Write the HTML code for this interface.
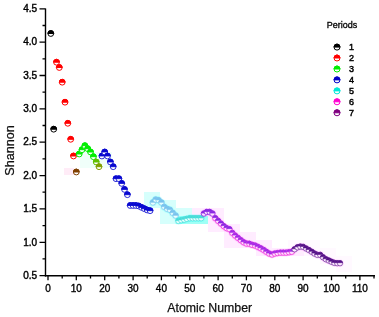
<!DOCTYPE html>
<html><head><meta charset="utf-8"><style>html,body{margin:0;padding:0;background:#fff}body{width:379px;height:317px;overflow:hidden;font-family:"Liberation Sans",sans-serif}</style></head><body>
<svg width="379" height="317" viewBox="0 0 379 317" style="display:block;font-family:'Liberation Sans',sans-serif;filter:blur(0.4px)">
<rect width="379" height="317" fill="#fff"/>
<rect x="144" y="200" width="16" height="8" fill="#00ffee" opacity="0.16"/>
<rect x="144" y="192" width="16" height="8" fill="#00ffee" opacity="0.16"/>
<rect x="160" y="200" width="16" height="8" fill="#00ffee" opacity="0.16"/>
<rect x="160" y="208" width="16" height="8" fill="#00ffee" opacity="0.16"/>
<rect x="160" y="216" width="16" height="8" fill="#00ffee" opacity="0.16"/>
<rect x="176" y="208" width="16" height="8" fill="#00ffee" opacity="0.16"/>
<rect x="176" y="216" width="16" height="8" fill="#00ffee" opacity="0.16"/>
<rect x="192" y="216" width="16" height="8" fill="#00ffee" opacity="0.16"/>
<rect x="192" y="208" width="16" height="8" fill="#ff30ff" opacity="0.09"/>
<rect x="208" y="208" width="16" height="8" fill="#ff30ff" opacity="0.09"/>
<rect x="208" y="216" width="16" height="8" fill="#ff30ff" opacity="0.09"/>
<rect x="208" y="224" width="16" height="8" fill="#ff30ff" opacity="0.09"/>
<rect x="224" y="224" width="16" height="8" fill="#ff30ff" opacity="0.09"/>
<rect x="224" y="232" width="16" height="8" fill="#ff30ff" opacity="0.09"/>
<rect x="224" y="240" width="16" height="8" fill="#ff30ff" opacity="0.09"/>
<rect x="240" y="232" width="16" height="8" fill="#ff30ff" opacity="0.09"/>
<rect x="240" y="240" width="16" height="8" fill="#ff30ff" opacity="0.09"/>
<rect x="256" y="240" width="16" height="8" fill="#ff30ff" opacity="0.09"/>
<rect x="256" y="248" width="16" height="8" fill="#ff30ff" opacity="0.09"/>
<rect x="272" y="248" width="16" height="8" fill="#ff30ff" opacity="0.09"/>
<rect x="288" y="248" width="16" height="8" fill="#ff30ff" opacity="0.09"/>
<rect x="288" y="240" width="16" height="8" fill="#ff60ff" opacity="0.04"/>
<rect x="304" y="240" width="16" height="8" fill="#ff60ff" opacity="0.04"/>
<rect x="304" y="248" width="16" height="8" fill="#ff60ff" opacity="0.04"/>
<rect x="320" y="248" width="16" height="8" fill="#ff60ff" opacity="0.04"/>
<rect x="320" y="256" width="16" height="8" fill="#ff60ff" opacity="0.04"/>
<rect x="336" y="256" width="16" height="8" fill="#ff60ff" opacity="0.04"/>
<rect x="336" y="264" width="16" height="8" fill="#ff60ff" opacity="0.04"/>
<rect x="64" y="168" width="10" height="7" fill="#ff60c0" opacity="0.12"/>
<rect x="176" y="216" width="32" height="8" fill="#60fff0" opacity="0.45"/>
<rect x="80" y="152" width="32" height="16" fill="#40ffc0" opacity="0.08"/>
<g stroke="#000" stroke-width="1.4" fill="none">
<path d="M45.5,8.4 V276.5"/>
<path d="M44.85,275.8 H375"/>
</g>
<g stroke="#000" stroke-width="1.3" fill="none">
<path d="M39.5,275.6 H45.5 M42.5,258.9 H45.5 M39.5,242.3 H45.5 M42.5,225.6 H45.5 M39.5,208.9 H45.5 M42.5,192.2 H45.5 M39.5,175.6 H45.5 M42.5,158.9 H45.5 M39.5,142.2 H45.5 M42.5,125.5 H45.5 M39.5,108.9 H45.5 M42.5,92.2 H45.5 M39.5,75.5 H45.5 M42.5,58.8 H45.5 M39.5,42.2 H45.5 M42.5,25.5 H45.5 M39.5,8.8 H45.5 M48.0,275.8 V280.3 M62.2,275.8 V278.6 M76.3,275.8 V280.3 M90.5,275.8 V278.6 M104.7,275.8 V280.3 M118.9,275.8 V278.6 M133.1,275.8 V280.3 M147.2,275.8 V278.6 M161.4,275.8 V280.3 M175.6,275.8 V278.6 M189.8,275.8 V280.3 M203.9,275.8 V278.6 M218.1,275.8 V280.3 M232.3,275.8 V278.6 M246.4,275.8 V280.3 M260.6,275.8 V278.6 M274.8,275.8 V280.3 M289.0,275.8 V278.6 M303.1,275.8 V280.3 M317.3,275.8 V278.6 M331.5,275.8 V280.3 M345.7,275.8 V278.6 M359.9,275.8 V280.3 M374.0,275.8 V278.6"/>
</g>
<g font-size="10" fill="#000" stroke="#000" stroke-width="0.4" text-anchor="end">
<text x="37.2" y="278.8">0.5</text>
<text x="37.2" y="245.5">1.0</text>
<text x="37.2" y="212.1">1.5</text>
<text x="37.2" y="178.8">2.0</text>
<text x="37.2" y="145.4">2.5</text>
<text x="37.2" y="112.1">3.0</text>
<text x="37.2" y="78.7">3.5</text>
<text x="37.2" y="45.4">4.0</text>
<text x="37.2" y="12.0">4.5</text>
</g>
<g font-size="10" fill="#000" stroke="#000" stroke-width="0.35" text-anchor="middle">
<text x="48.0" y="292.3">0</text>
<text x="76.3" y="292.3">10</text>
<text x="104.7" y="292.3">20</text>
<text x="133.1" y="292.3">30</text>
<text x="161.4" y="292.3">40</text>
<text x="189.8" y="292.3">50</text>
<text x="218.1" y="292.3">60</text>
<text x="246.4" y="292.3">70</text>
<text x="274.8" y="292.3">80</text>
<text x="303.1" y="292.3">90</text>
<text x="331.5" y="292.3">100</text>
<text x="359.9" y="292.3">110</text>
</g>
<text x="209.7" y="311.7" font-size="12.3" fill="#111" stroke="#111" stroke-width="0.25" text-anchor="middle">Atomic Number</text>
<text transform="translate(13.5,150.5) rotate(-90)" font-size="12.6" fill="#111" stroke="#111" stroke-width="0.25" text-anchor="middle">Shannon</text>
<text x="342.1" y="27.9" font-size="9" fill="#000" stroke="#000" stroke-width="0.3" text-anchor="middle">Periods</text>
<g transform="translate(337.0,47.1)"><circle r="3.0" fill="#fff" stroke="#000000" stroke-width="1"/><path d="M-3.00,-0.0 A3.0,3.0 0 0 1 3.00,-0.0 Z" fill="#000000" stroke="#000000" stroke-width="1"/></g>
<text x="351.4" y="50.3" font-size="9" fill="#000" stroke="#000" stroke-width="0.45" text-anchor="middle">1</text>
<g transform="translate(337.0,58.0)"><circle r="3.0" fill="#fff" stroke="#ff0000" stroke-width="1"/><path d="M-3.00,-0.0 A3.0,3.0 0 0 1 3.00,-0.0 Z" fill="#ff0000" stroke="#ff0000" stroke-width="1"/></g>
<text x="351.4" y="61.2" font-size="9" fill="#000" stroke="#000" stroke-width="0.45" text-anchor="middle">2</text>
<g transform="translate(337.0,69.0)"><circle r="3.0" fill="#fff" stroke="#00ee00" stroke-width="1"/><path d="M-3.00,-0.0 A3.0,3.0 0 0 1 3.00,-0.0 Z" fill="#00ee00" stroke="#00ee00" stroke-width="1"/></g>
<text x="351.4" y="72.2" font-size="9" fill="#000" stroke="#000" stroke-width="0.45" text-anchor="middle">3</text>
<g transform="translate(337.0,79.9)"><circle r="3.0" fill="#fff" stroke="#0000c8" stroke-width="1"/><path d="M-3.00,-0.0 A3.0,3.0 0 0 1 3.00,-0.0 Z" fill="#0000c8" stroke="#0000c8" stroke-width="1"/></g>
<text x="351.4" y="83.1" font-size="9" fill="#000" stroke="#000" stroke-width="0.45" text-anchor="middle">4</text>
<g transform="translate(337.0,90.9)"><circle r="3.0" fill="#fff" stroke="#00e8d8" stroke-width="1"/><path d="M-3.00,-0.0 A3.0,3.0 0 0 1 3.00,-0.0 Z" fill="#00e8d8" stroke="#00e8d8" stroke-width="1"/></g>
<text x="351.4" y="94.1" font-size="9" fill="#000" stroke="#000" stroke-width="0.45" text-anchor="middle">5</text>
<g transform="translate(337.0,101.8)"><circle r="3.0" fill="#fff" stroke="#ff00d0" stroke-width="1"/><path d="M-3.00,-0.0 A3.0,3.0 0 0 1 3.00,-0.0 Z" fill="#ff00d0" stroke="#ff00d0" stroke-width="1"/></g>
<text x="351.4" y="105.0" font-size="9" fill="#000" stroke="#000" stroke-width="0.45" text-anchor="middle">6</text>
<g transform="translate(337.0,112.8)"><circle r="3.0" fill="#fff" stroke="#800080" stroke-width="1"/><path d="M-3.00,-0.0 A3.0,3.0 0 0 1 3.00,-0.0 Z" fill="#800080" stroke="#800080" stroke-width="1"/></g>
<text x="351.4" y="116.0" font-size="9" fill="#000" stroke="#000" stroke-width="0.45" text-anchor="middle">7</text>
<circle cx="152.9" cy="202.5" r="3.85" fill="#00ffff" opacity="0.14"/>
<circle cx="155.7" cy="199.6" r="3.85" fill="#00ffff" opacity="0.14"/>
<circle cx="158.6" cy="200.2" r="3.85" fill="#00ffff" opacity="0.14"/>
<circle cx="161.4" cy="202.5" r="3.85" fill="#00ffff" opacity="0.14"/>
<circle cx="164.2" cy="206.9" r="3.85" fill="#00ffff" opacity="0.14"/>
<circle cx="167.1" cy="208.9" r="3.85" fill="#00ffff" opacity="0.14"/>
<circle cx="169.9" cy="209.9" r="3.85" fill="#00ffff" opacity="0.14"/>
<circle cx="172.7" cy="212.9" r="3.85" fill="#00ffff" opacity="0.14"/>
<circle cx="175.6" cy="215.6" r="3.85" fill="#00ffff" opacity="0.14"/>
<circle cx="178.4" cy="220.9" r="3.85" fill="#00ffff" opacity="0.14"/>
<circle cx="181.2" cy="220.2" r="3.85" fill="#00ffff" opacity="0.14"/>
<circle cx="184.1" cy="219.6" r="3.85" fill="#00ffff" opacity="0.14"/>
<circle cx="186.9" cy="218.9" r="3.85" fill="#00ffff" opacity="0.14"/>
<circle cx="189.8" cy="218.2" r="3.85" fill="#00ffff" opacity="0.14"/>
<circle cx="192.6" cy="218.2" r="3.85" fill="#00ffff" opacity="0.14"/>
<circle cx="195.4" cy="218.2" r="3.85" fill="#00ffff" opacity="0.14"/>
<circle cx="198.3" cy="218.2" r="3.85" fill="#00ffff" opacity="0.14"/>
<circle cx="201.1" cy="218.2" r="3.85" fill="#00ffff" opacity="0.14"/>
<circle cx="203.9" cy="213.6" r="3.8000000000000003" fill="#ff00ff" opacity="0.14"/>
<circle cx="206.8" cy="212.0" r="3.8000000000000003" fill="#ff00ff" opacity="0.14"/>
<circle cx="209.6" cy="212.0" r="3.8000000000000003" fill="#ff00ff" opacity="0.14"/>
<circle cx="212.4" cy="213.6" r="3.8000000000000003" fill="#ff00ff" opacity="0.14"/>
<circle cx="215.3" cy="218.2" r="3.8000000000000003" fill="#ff00ff" opacity="0.14"/>
<circle cx="218.1" cy="220.9" r="3.8000000000000003" fill="#ff00ff" opacity="0.14"/>
<circle cx="220.9" cy="223.6" r="3.8000000000000003" fill="#ff00ff" opacity="0.14"/>
<circle cx="223.8" cy="226.2" r="3.8000000000000003" fill="#ff00ff" opacity="0.14"/>
<circle cx="226.6" cy="228.2" r="3.8000000000000003" fill="#ff00ff" opacity="0.14"/>
<circle cx="229.4" cy="229.2" r="3.8000000000000003" fill="#ff00ff" opacity="0.14"/>
<circle cx="232.3" cy="232.9" r="3.8000000000000003" fill="#ff00ff" opacity="0.14"/>
<circle cx="235.1" cy="235.6" r="3.8000000000000003" fill="#ff00ff" opacity="0.14"/>
<circle cx="237.9" cy="237.9" r="3.8000000000000003" fill="#ff00ff" opacity="0.14"/>
<circle cx="240.8" cy="240.2" r="3.8000000000000003" fill="#ff00ff" opacity="0.14"/>
<circle cx="243.6" cy="242.3" r="3.8000000000000003" fill="#ff00ff" opacity="0.14"/>
<circle cx="246.4" cy="243.6" r="3.8000000000000003" fill="#ff00ff" opacity="0.14"/>
<circle cx="249.3" cy="243.8" r="3.8000000000000003" fill="#ff00ff" opacity="0.14"/>
<circle cx="252.1" cy="244.9" r="3.8000000000000003" fill="#ff00ff" opacity="0.14"/>
<circle cx="255.0" cy="245.6" r="3.8000000000000003" fill="#ff00ff" opacity="0.14"/>
<circle cx="257.8" cy="246.9" r="3.8000000000000003" fill="#ff00ff" opacity="0.14"/>
<circle cx="260.6" cy="248.3" r="3.8000000000000003" fill="#ff00ff" opacity="0.14"/>
<circle cx="263.5" cy="249.9" r="3.8000000000000003" fill="#ff00ff" opacity="0.14"/>
<circle cx="266.3" cy="251.8" r="3.8000000000000003" fill="#ff00ff" opacity="0.14"/>
<circle cx="269.1" cy="253.6" r="3.8000000000000003" fill="#ff00ff" opacity="0.14"/>
<circle cx="272.0" cy="254.6" r="3.8000000000000003" fill="#ff00ff" opacity="0.14"/>
<circle cx="274.8" cy="253.6" r="3.8000000000000003" fill="#ff00ff" opacity="0.14"/>
<circle cx="277.6" cy="253.1" r="3.8000000000000003" fill="#ff00ff" opacity="0.14"/>
<circle cx="280.5" cy="252.7" r="3.8000000000000003" fill="#ff00ff" opacity="0.14"/>
<circle cx="283.3" cy="252.7" r="3.8000000000000003" fill="#ff00ff" opacity="0.14"/>
<circle cx="286.1" cy="252.7" r="3.8000000000000003" fill="#ff00ff" opacity="0.14"/>
<circle cx="289.0" cy="252.3" r="3.8000000000000003" fill="#ff00ff" opacity="0.14"/>
<circle cx="291.8" cy="251.8" r="3.8000000000000003" fill="#ff00ff" opacity="0.14"/>
<circle cx="294.6" cy="249.3" r="3.8000000000000003" fill="#ff40ff" opacity="0.14"/>
<circle cx="297.5" cy="247.3" r="3.8000000000000003" fill="#ff40ff" opacity="0.14"/>
<circle cx="300.3" cy="246.6" r="3.8000000000000003" fill="#ff40ff" opacity="0.14"/>
<circle cx="303.1" cy="246.9" r="3.8000000000000003" fill="#ff40ff" opacity="0.14"/>
<circle cx="306.0" cy="248.5" r="3.8000000000000003" fill="#ff40ff" opacity="0.14"/>
<circle cx="308.8" cy="250.0" r="3.8000000000000003" fill="#ff40ff" opacity="0.14"/>
<circle cx="311.7" cy="251.8" r="3.8000000000000003" fill="#ff40ff" opacity="0.14"/>
<circle cx="314.5" cy="253.6" r="3.8000000000000003" fill="#ff40ff" opacity="0.14"/>
<circle cx="317.3" cy="254.9" r="3.8000000000000003" fill="#ff40ff" opacity="0.14"/>
<circle cx="320.2" cy="254.9" r="3.8000000000000003" fill="#ff40ff" opacity="0.14"/>
<circle cx="323.0" cy="257.3" r="3.8000000000000003" fill="#ff40ff" opacity="0.14"/>
<circle cx="325.8" cy="259.2" r="3.8000000000000003" fill="#ff40ff" opacity="0.14"/>
<circle cx="328.7" cy="260.5" r="3.8000000000000003" fill="#ff40ff" opacity="0.14"/>
<circle cx="331.5" cy="261.8" r="3.8000000000000003" fill="#ff40ff" opacity="0.14"/>
<circle cx="334.3" cy="262.9" r="3.8000000000000003" fill="#ff40ff" opacity="0.14"/>
<circle cx="337.2" cy="263.2" r="3.8000000000000003" fill="#ff40ff" opacity="0.14"/>
<circle cx="340.0" cy="263.2" r="3.8000000000000003" fill="#ff40ff" opacity="0.14"/>
<g transform="translate(50.8,33.5)"><circle r="2.9" fill="#fff" stroke="#000000" stroke-width="1"/><path d="M-2.90,0 A2.9,2.9 0 0 1 2.90,0 Z" fill="#000000" stroke="#000000" stroke-width="1"/></g>
<g transform="translate(53.7,129.2)"><circle r="2.9" fill="#fff" stroke="#000000" stroke-width="1"/><path d="M-2.90,0 A2.9,2.9 0 0 1 2.90,0 Z" fill="#000000" stroke="#000000" stroke-width="1"/></g>
<g transform="translate(56.5,62.2)"><circle r="2.9" fill="#fff" stroke="#ff0000" stroke-width="1"/><path d="M-2.90,0 A2.9,2.9 0 0 1 2.90,0 Z" fill="#ff0000" stroke="#ff0000" stroke-width="1"/></g>
<g transform="translate(59.3,67.5)"><circle r="2.9" fill="#fff" stroke="#ff0000" stroke-width="1"/><path d="M-2.90,0 A2.9,2.9 0 0 1 2.90,0 Z" fill="#ff0000" stroke="#ff0000" stroke-width="1"/></g>
<g transform="translate(62.2,82.2)"><circle r="2.9" fill="#fff" stroke="#ff0000" stroke-width="1"/><path d="M-2.90,0 A2.9,2.9 0 0 1 2.90,0 Z" fill="#ff0000" stroke="#ff0000" stroke-width="1"/></g>
<g transform="translate(65.0,102.2)"><circle r="2.9" fill="#fff" stroke="#ff0000" stroke-width="1"/><path d="M-2.90,0 A2.9,2.9 0 0 1 2.90,0 Z" fill="#ff0000" stroke="#ff0000" stroke-width="1"/></g>
<g transform="translate(67.8,123.3)"><circle r="2.9" fill="#fff" stroke="#ff0000" stroke-width="1"/><path d="M-2.90,0 A2.9,2.9 0 0 1 2.90,0 Z" fill="#ff0000" stroke="#ff0000" stroke-width="1"/></g>
<g transform="translate(70.7,139.3)"><circle r="2.9" fill="#fff" stroke="#ff0000" stroke-width="1"/><path d="M-2.90,0 A2.9,2.9 0 0 1 2.90,0 Z" fill="#ff0000" stroke="#ff0000" stroke-width="1"/></g>
<g transform="translate(73.5,156.0)"><circle r="2.9" fill="#fff" stroke="#ff0000" stroke-width="1"/><path d="M-2.90,0 A2.9,2.9 0 0 1 2.90,0 Z" fill="#ff0000" stroke="#ff0000" stroke-width="1"/></g>
<g transform="translate(76.3,172.0)"><circle r="2.9" fill="#fff" stroke="#804000" stroke-width="1"/><path d="M-2.90,0 A2.9,2.9 0 0 1 2.90,0 Z" fill="#804000" stroke="#804000" stroke-width="1"/></g>
<g transform="translate(79.2,154.0)"><circle r="2.9" fill="#fff" stroke="#00ee00" stroke-width="1"/><path d="M-2.90,0 A2.9,2.9 0 0 1 2.90,0 Z" fill="#00ee00" stroke="#00ee00" stroke-width="1"/></g>
<g transform="translate(82.0,149.7)"><circle r="2.9" fill="#fff" stroke="#00ee00" stroke-width="1"/><path d="M-2.90,0 A2.9,2.9 0 0 1 2.90,0 Z" fill="#00ee00" stroke="#00ee00" stroke-width="1"/></g>
<g transform="translate(84.9,145.7)"><circle r="2.9" fill="#fff" stroke="#00ee00" stroke-width="1"/><path d="M-2.90,0 A2.9,2.9 0 0 1 2.90,0 Z" fill="#00ee00" stroke="#00ee00" stroke-width="1"/></g>
<g transform="translate(87.7,148.7)"><circle r="2.9" fill="#fff" stroke="#00ee00" stroke-width="1"/><path d="M-2.90,0 A2.9,2.9 0 0 1 2.90,0 Z" fill="#00ee00" stroke="#00ee00" stroke-width="1"/></g>
<g transform="translate(90.5,152.0)"><circle r="2.9" fill="#fff" stroke="#00ee00" stroke-width="1"/><path d="M-2.90,0 A2.9,2.9 0 0 1 2.90,0 Z" fill="#00ee00" stroke="#00ee00" stroke-width="1"/></g>
<g transform="translate(93.4,156.7)"><circle r="2.9" fill="#fff" stroke="#00ee00" stroke-width="1"/><path d="M-2.90,0 A2.9,2.9 0 0 1 2.90,0 Z" fill="#00ee00" stroke="#00ee00" stroke-width="1"/></g>
<g transform="translate(96.2,162.0)"><circle r="2.9" fill="#fff" stroke="#60c000" stroke-width="1"/><path d="M-2.90,0 A2.9,2.9 0 0 1 2.90,0 Z" fill="#60c000" stroke="#60c000" stroke-width="1"/></g>
<g transform="translate(99.0,166.7)"><circle r="2.9" fill="#fff" stroke="#80a000" stroke-width="1"/><path d="M-2.90,0 A2.9,2.9 0 0 1 2.90,0 Z" fill="#80a000" stroke="#80a000" stroke-width="1"/></g>
<g transform="translate(101.9,156.0)"><circle r="2.9" fill="#fff" stroke="#0808d0" stroke-width="0.85"/><path d="M-2.90,0 A2.9,2.9 0 0 1 2.90,0 Z" fill="#0808d0" stroke="#0808d0" stroke-width="0.85"/></g>
<g transform="translate(104.7,152.0)"><circle r="2.9" fill="#fff" stroke="#0808d0" stroke-width="0.85"/><path d="M-2.90,0 A2.9,2.9 0 0 1 2.90,0 Z" fill="#0808d0" stroke="#0808d0" stroke-width="0.85"/></g>
<g transform="translate(107.5,156.0)"><circle r="2.9" fill="#fff" stroke="#0808d0" stroke-width="0.85"/><path d="M-2.90,0 A2.9,2.9 0 0 1 2.90,0 Z" fill="#0808d0" stroke="#0808d0" stroke-width="0.85"/></g>
<g transform="translate(110.4,162.0)"><circle r="2.9" fill="#fff" stroke="#0808d0" stroke-width="0.85"/><path d="M-2.90,0 A2.9,2.9 0 0 1 2.90,0 Z" fill="#0808d0" stroke="#0808d0" stroke-width="0.85"/></g>
<g transform="translate(113.2,166.7)"><circle r="2.9" fill="#fff" stroke="#0808d0" stroke-width="0.85"/><path d="M-2.90,0 A2.9,2.9 0 0 1 2.90,0 Z" fill="#0808d0" stroke="#0808d0" stroke-width="0.85"/></g>
<g transform="translate(116.0,178.7)"><circle r="2.9" fill="#fff" stroke="#0808d0" stroke-width="0.85"/><path d="M-2.90,0 A2.9,2.9 0 0 1 2.90,0 Z" fill="#0808d0" stroke="#0808d0" stroke-width="0.85"/></g>
<g transform="translate(118.9,178.7)"><circle r="2.9" fill="#fff" stroke="#0808d0" stroke-width="0.85"/><path d="M-2.90,0 A2.9,2.9 0 0 1 2.90,0 Z" fill="#0808d0" stroke="#0808d0" stroke-width="0.85"/></g>
<g transform="translate(121.7,183.4)"><circle r="2.9" fill="#fff" stroke="#0808d0" stroke-width="0.85"/><path d="M-2.90,0 A2.9,2.9 0 0 1 2.90,0 Z" fill="#0808d0" stroke="#0808d0" stroke-width="0.85"/></g>
<g transform="translate(124.5,189.4)"><circle r="2.9" fill="#fff" stroke="#0808d0" stroke-width="0.85"/><path d="M-2.90,0 A2.9,2.9 0 0 1 2.90,0 Z" fill="#0808d0" stroke="#0808d0" stroke-width="0.85"/></g>
<g transform="translate(127.4,194.7)"><circle r="2.9" fill="#fff" stroke="#0808d0" stroke-width="0.85"/><path d="M-2.90,0 A2.9,2.9 0 0 1 2.90,0 Z" fill="#0808d0" stroke="#0808d0" stroke-width="0.85"/></g>
<g transform="translate(130.2,205.5)"><circle r="2.9" fill="#fff" stroke="#0808d0" stroke-width="0.85"/><path d="M-2.90,0 A2.9,2.9 0 0 1 2.90,0 Z" fill="#0808d0" stroke="#0808d0" stroke-width="0.85"/></g>
<g transform="translate(133.1,205.5)"><circle r="2.9" fill="#fff" stroke="#0808d0" stroke-width="0.85"/><path d="M-2.90,0 A2.9,2.9 0 0 1 2.90,0 Z" fill="#0808d0" stroke="#0808d0" stroke-width="0.85"/></g>
<g transform="translate(135.9,205.5)"><circle r="2.9" fill="#fff" stroke="#0808d0" stroke-width="0.85"/><path d="M-2.90,0 A2.9,2.9 0 0 1 2.90,0 Z" fill="#0808d0" stroke="#0808d0" stroke-width="0.85"/></g>
<g transform="translate(138.7,206.0)"><circle r="2.9" fill="#fff" stroke="#0808d0" stroke-width="0.85"/><path d="M-2.90,0 A2.9,2.9 0 0 1 2.90,0 Z" fill="#0808d0" stroke="#0808d0" stroke-width="0.85"/></g>
<g transform="translate(141.6,207.4)"><circle r="2.9" fill="#fff" stroke="#0808d0" stroke-width="0.85"/><path d="M-2.90,0 A2.9,2.9 0 0 1 2.90,0 Z" fill="#0808d0" stroke="#0808d0" stroke-width="0.85"/></g>
<g transform="translate(144.4,208.7)"><circle r="2.9" fill="#fff" stroke="#0808d0" stroke-width="0.85"/><path d="M-2.90,0 A2.9,2.9 0 0 1 2.90,0 Z" fill="#0808d0" stroke="#0808d0" stroke-width="0.85"/></g>
<g transform="translate(147.2,210.0)"><circle r="2.9" fill="#fff" stroke="#0808d0" stroke-width="0.85"/><path d="M-2.90,0 A2.9,2.9 0 0 1 2.90,0 Z" fill="#0808d0" stroke="#0808d0" stroke-width="0.85"/></g>
<g transform="translate(150.1,210.7)"><circle r="2.9" fill="#fff" stroke="#0808d0" stroke-width="0.85"/><path d="M-2.90,0 A2.9,2.9 0 0 1 2.90,0 Z" fill="#0808d0" stroke="#0808d0" stroke-width="0.85"/></g>
<g transform="translate(152.9,202.5)"><circle r="2.75" fill="#e8ffff" stroke="#78c4ee" stroke-width="0.7"/><path d="M-2.73,-0.3 A2.75,2.75 0 0 1 2.73,-0.3 Z" fill="#78c4ee" stroke="#78c4ee" stroke-width="0.7"/></g>
<g transform="translate(155.7,199.6)"><circle r="2.75" fill="#e8ffff" stroke="#78c4ee" stroke-width="0.7"/><path d="M-2.73,-0.3 A2.75,2.75 0 0 1 2.73,-0.3 Z" fill="#78c4ee" stroke="#78c4ee" stroke-width="0.7"/></g>
<g transform="translate(158.6,200.2)"><circle r="2.75" fill="#e8ffff" stroke="#78c4ee" stroke-width="0.7"/><path d="M-2.73,-0.3 A2.75,2.75 0 0 1 2.73,-0.3 Z" fill="#78c4ee" stroke="#78c4ee" stroke-width="0.7"/></g>
<g transform="translate(161.4,202.5)"><circle r="2.75" fill="#e8ffff" stroke="#78c4ee" stroke-width="0.7"/><path d="M-2.73,-0.3 A2.75,2.75 0 0 1 2.73,-0.3 Z" fill="#78c4ee" stroke="#78c4ee" stroke-width="0.7"/></g>
<g transform="translate(164.2,206.9)"><circle r="2.75" fill="#e8ffff" stroke="#78c4ee" stroke-width="0.7"/><path d="M-2.73,-0.3 A2.75,2.75 0 0 1 2.73,-0.3 Z" fill="#78c4ee" stroke="#78c4ee" stroke-width="0.7"/></g>
<g transform="translate(167.1,208.9)"><circle r="2.75" fill="#e8ffff" stroke="#78c4ee" stroke-width="0.7"/><path d="M-2.73,-0.3 A2.75,2.75 0 0 1 2.73,-0.3 Z" fill="#78c4ee" stroke="#78c4ee" stroke-width="0.7"/></g>
<g transform="translate(169.9,209.9)"><circle r="2.75" fill="#e8ffff" stroke="#78c4ee" stroke-width="0.7"/><path d="M-2.73,-0.3 A2.75,2.75 0 0 1 2.73,-0.3 Z" fill="#78c4ee" stroke="#78c4ee" stroke-width="0.7"/></g>
<g transform="translate(172.7,212.9)"><circle r="2.75" fill="#e8ffff" stroke="#78c4ee" stroke-width="0.7"/><path d="M-2.73,-0.3 A2.75,2.75 0 0 1 2.73,-0.3 Z" fill="#78c4ee" stroke="#78c4ee" stroke-width="0.7"/></g>
<g transform="translate(175.6,215.6)"><circle r="2.75" fill="#e8ffff" stroke="#78c4ee" stroke-width="0.7"/><path d="M-2.73,-0.3 A2.75,2.75 0 0 1 2.73,-0.3 Z" fill="#78c4ee" stroke="#78c4ee" stroke-width="0.7"/></g>
<g transform="translate(178.4,220.9)"><circle r="2.75" fill="#e8ffff" stroke="#48dcd8" stroke-width="0.7"/><path d="M-2.73,-0.3 A2.75,2.75 0 0 1 2.73,-0.3 Z" fill="#48dcd8" stroke="#48dcd8" stroke-width="0.7"/></g>
<g transform="translate(181.2,220.2)"><circle r="2.75" fill="#e8ffff" stroke="#48dcd8" stroke-width="0.7"/><path d="M-2.73,-0.3 A2.75,2.75 0 0 1 2.73,-0.3 Z" fill="#48dcd8" stroke="#48dcd8" stroke-width="0.7"/></g>
<g transform="translate(184.1,219.6)"><circle r="2.75" fill="#e8ffff" stroke="#48dcd8" stroke-width="0.7"/><path d="M-2.73,-0.3 A2.75,2.75 0 0 1 2.73,-0.3 Z" fill="#48dcd8" stroke="#48dcd8" stroke-width="0.7"/></g>
<g transform="translate(186.9,218.9)"><circle r="2.75" fill="#e8ffff" stroke="#48dcd8" stroke-width="0.7"/><path d="M-2.73,-0.3 A2.75,2.75 0 0 1 2.73,-0.3 Z" fill="#48dcd8" stroke="#48dcd8" stroke-width="0.7"/></g>
<g transform="translate(189.8,218.2)"><circle r="2.75" fill="#e8ffff" stroke="#48dcd8" stroke-width="0.7"/><path d="M-2.73,-0.3 A2.75,2.75 0 0 1 2.73,-0.3 Z" fill="#48dcd8" stroke="#48dcd8" stroke-width="0.7"/></g>
<g transform="translate(192.6,218.2)"><circle r="2.75" fill="#e8ffff" stroke="#48dcd8" stroke-width="0.7"/><path d="M-2.73,-0.3 A2.75,2.75 0 0 1 2.73,-0.3 Z" fill="#48dcd8" stroke="#48dcd8" stroke-width="0.7"/></g>
<g transform="translate(195.4,218.2)"><circle r="2.75" fill="#e8ffff" stroke="#48dcd8" stroke-width="0.7"/><path d="M-2.73,-0.3 A2.75,2.75 0 0 1 2.73,-0.3 Z" fill="#48dcd8" stroke="#48dcd8" stroke-width="0.7"/></g>
<g transform="translate(198.3,218.2)"><circle r="2.75" fill="#e8ffff" stroke="#48dcd8" stroke-width="0.7"/><path d="M-2.73,-0.3 A2.75,2.75 0 0 1 2.73,-0.3 Z" fill="#48dcd8" stroke="#48dcd8" stroke-width="0.7"/></g>
<g transform="translate(201.1,218.2)"><circle r="2.75" fill="#e8ffff" stroke="#48dcd8" stroke-width="0.7"/><path d="M-2.73,-0.3 A2.75,2.75 0 0 1 2.73,-0.3 Z" fill="#48dcd8" stroke="#48dcd8" stroke-width="0.7"/></g>
<g transform="translate(203.9,213.6)"><circle r="2.7" fill="#ffe0ff" stroke="#8a28e2" stroke-width="0.8"/><path d="M-2.63,-0.6 A2.7,2.7 0 0 1 2.63,-0.6 Z" fill="#8a28e2" stroke="#8a28e2" stroke-width="0.8"/></g>
<g transform="translate(206.8,212.0)"><circle r="2.7" fill="#ffe0ff" stroke="#8a28e2" stroke-width="0.8"/><path d="M-2.63,-0.6 A2.7,2.7 0 0 1 2.63,-0.6 Z" fill="#8a28e2" stroke="#8a28e2" stroke-width="0.8"/></g>
<g transform="translate(209.6,212.0)"><circle r="2.7" fill="#ffe0ff" stroke="#8a28e2" stroke-width="0.8"/><path d="M-2.63,-0.6 A2.7,2.7 0 0 1 2.63,-0.6 Z" fill="#8a28e2" stroke="#8a28e2" stroke-width="0.8"/></g>
<g transform="translate(212.4,213.6)"><circle r="2.7" fill="#ffe0ff" stroke="#8a28e2" stroke-width="0.8"/><path d="M-2.63,-0.6 A2.7,2.7 0 0 1 2.63,-0.6 Z" fill="#8a28e2" stroke="#8a28e2" stroke-width="0.8"/></g>
<g transform="translate(215.3,218.2)"><circle r="2.7" fill="#ffe0ff" stroke="#f038d8" stroke-width="0.8"/><path d="M-2.63,-0.6 A2.7,2.7 0 0 1 2.63,-0.6 Z" fill="#8a28e2" stroke="#8a28e2" stroke-width="0.8"/></g>
<g transform="translate(218.1,220.9)"><circle r="2.7" fill="#ffe0ff" stroke="#f038d8" stroke-width="0.8"/><path d="M-2.63,-0.6 A2.7,2.7 0 0 1 2.63,-0.6 Z" fill="#8a28e2" stroke="#8a28e2" stroke-width="0.8"/></g>
<g transform="translate(220.9,223.6)"><circle r="2.7" fill="#ffe0ff" stroke="#f038d8" stroke-width="0.8"/><path d="M-2.63,-0.6 A2.7,2.7 0 0 1 2.63,-0.6 Z" fill="#8a28e2" stroke="#8a28e2" stroke-width="0.8"/></g>
<g transform="translate(223.8,226.2)"><circle r="2.7" fill="#ffe0ff" stroke="#f038d8" stroke-width="0.8"/><path d="M-2.63,-0.6 A2.7,2.7 0 0 1 2.63,-0.6 Z" fill="#8a28e2" stroke="#8a28e2" stroke-width="0.8"/></g>
<g transform="translate(226.6,228.2)"><circle r="2.7" fill="#ffe0ff" stroke="#f038d8" stroke-width="0.8"/><path d="M-2.63,-0.6 A2.7,2.7 0 0 1 2.63,-0.6 Z" fill="#8a28e2" stroke="#8a28e2" stroke-width="0.8"/></g>
<g transform="translate(229.4,229.2)"><circle r="2.7" fill="#ffe0ff" stroke="#f038d8" stroke-width="0.8"/><path d="M-2.63,-0.6 A2.7,2.7 0 0 1 2.63,-0.6 Z" fill="#8a28e2" stroke="#8a28e2" stroke-width="0.8"/></g>
<g transform="translate(232.3,232.9)"><circle r="2.7" fill="#ffe0ff" stroke="#f038d8" stroke-width="0.8"/><path d="M-2.63,-0.6 A2.7,2.7 0 0 1 2.63,-0.6 Z" fill="#a42ae6" stroke="#a42ae6" stroke-width="0.8"/></g>
<g transform="translate(235.1,235.6)"><circle r="2.7" fill="#ffe0ff" stroke="#f038d8" stroke-width="0.8"/><path d="M-2.63,-0.6 A2.7,2.7 0 0 1 2.63,-0.6 Z" fill="#a42ae6" stroke="#a42ae6" stroke-width="0.8"/></g>
<g transform="translate(237.9,237.9)"><circle r="2.7" fill="#ffe0ff" stroke="#f038d8" stroke-width="0.8"/><path d="M-2.63,-0.6 A2.7,2.7 0 0 1 2.63,-0.6 Z" fill="#a42ae6" stroke="#a42ae6" stroke-width="0.8"/></g>
<g transform="translate(240.8,240.2)"><circle r="2.7" fill="#ffe0ff" stroke="#f038d8" stroke-width="0.8"/><path d="M-2.63,-0.6 A2.7,2.7 0 0 1 2.63,-0.6 Z" fill="#a42ae6" stroke="#a42ae6" stroke-width="0.8"/></g>
<g transform="translate(243.6,242.3)"><circle r="2.7" fill="#ffe0ff" stroke="#f038d8" stroke-width="0.8"/><path d="M-2.63,-0.6 A2.7,2.7 0 0 1 2.63,-0.6 Z" fill="#a42ae6" stroke="#a42ae6" stroke-width="0.8"/></g>
<g transform="translate(246.4,243.6)"><circle r="2.7" fill="#ffe0ff" stroke="#f038d8" stroke-width="0.8"/><path d="M-2.63,-0.6 A2.7,2.7 0 0 1 2.63,-0.6 Z" fill="#a42ae6" stroke="#a42ae6" stroke-width="0.8"/></g>
<g transform="translate(249.3,243.8)"><circle r="2.7" fill="#ffe0ff" stroke="#f038d8" stroke-width="0.8"/><path d="M-2.63,-0.6 A2.7,2.7 0 0 1 2.63,-0.6 Z" fill="#a42ae6" stroke="#a42ae6" stroke-width="0.8"/></g>
<g transform="translate(252.1,244.9)"><circle r="2.7" fill="#ffe0ff" stroke="#f038d8" stroke-width="0.8"/><path d="M-2.63,-0.6 A2.7,2.7 0 0 1 2.63,-0.6 Z" fill="#a42ae6" stroke="#a42ae6" stroke-width="0.8"/></g>
<g transform="translate(255.0,245.6)"><circle r="2.7" fill="#ffe0ff" stroke="#f038d8" stroke-width="0.8"/><path d="M-2.63,-0.6 A2.7,2.7 0 0 1 2.63,-0.6 Z" fill="#a42ae6" stroke="#a42ae6" stroke-width="0.8"/></g>
<g transform="translate(257.8,246.9)"><circle r="2.7" fill="#ffe0ff" stroke="#f038d8" stroke-width="0.8"/><path d="M-2.63,-0.6 A2.7,2.7 0 0 1 2.63,-0.6 Z" fill="#a42ae6" stroke="#a42ae6" stroke-width="0.8"/></g>
<g transform="translate(260.6,248.3)"><circle r="2.7" fill="#ffe0ff" stroke="#f038d8" stroke-width="0.8"/><path d="M-2.63,-0.6 A2.7,2.7 0 0 1 2.63,-0.6 Z" fill="#a42ae6" stroke="#a42ae6" stroke-width="0.8"/></g>
<g transform="translate(263.5,249.9)"><circle r="2.7" fill="#ffe0ff" stroke="#f038d8" stroke-width="0.8"/><path d="M-2.63,-0.6 A2.7,2.7 0 0 1 2.63,-0.6 Z" fill="#a42ae6" stroke="#a42ae6" stroke-width="0.8"/></g>
<g transform="translate(266.3,251.8)"><circle r="2.7" fill="#ffe0ff" stroke="#f038d8" stroke-width="0.8"/><path d="M-2.63,-0.6 A2.7,2.7 0 0 1 2.63,-0.6 Z" fill="#a42ae6" stroke="#a42ae6" stroke-width="0.8"/></g>
<g transform="translate(269.1,253.6)"><circle r="2.7" fill="#ffe0ff" stroke="#f038d8" stroke-width="0.8"/><path d="M-2.63,-0.6 A2.7,2.7 0 0 1 2.63,-0.6 Z" fill="#a42ae6" stroke="#a42ae6" stroke-width="0.8"/></g>
<g transform="translate(272.0,254.6)"><circle r="2.7" fill="#ffe0ff" stroke="#f038d8" stroke-width="0.8"/><path d="M-2.63,-0.6 A2.7,2.7 0 0 1 2.63,-0.6 Z" fill="#a42ae6" stroke="#a42ae6" stroke-width="0.8"/></g>
<g transform="translate(274.8,253.6)"><circle r="2.7" fill="#ffe0ff" stroke="#f038d8" stroke-width="0.8"/><path d="M-2.63,-0.6 A2.7,2.7 0 0 1 2.63,-0.6 Z" fill="#a42ae6" stroke="#a42ae6" stroke-width="0.8"/></g>
<g transform="translate(277.6,253.1)"><circle r="2.7" fill="#ffe0ff" stroke="#f038d8" stroke-width="0.8"/><path d="M-2.63,-0.6 A2.7,2.7 0 0 1 2.63,-0.6 Z" fill="#a42ae6" stroke="#a42ae6" stroke-width="0.8"/></g>
<g transform="translate(280.5,252.7)"><circle r="2.7" fill="#ffe0ff" stroke="#f038d8" stroke-width="0.8"/><path d="M-2.63,-0.6 A2.7,2.7 0 0 1 2.63,-0.6 Z" fill="#a42ae6" stroke="#a42ae6" stroke-width="0.8"/></g>
<g transform="translate(283.3,252.7)"><circle r="2.7" fill="#ffe0ff" stroke="#f038d8" stroke-width="0.8"/><path d="M-2.63,-0.6 A2.7,2.7 0 0 1 2.63,-0.6 Z" fill="#a42ae6" stroke="#a42ae6" stroke-width="0.8"/></g>
<g transform="translate(286.1,252.7)"><circle r="2.7" fill="#ffe0ff" stroke="#f038d8" stroke-width="0.8"/><path d="M-2.63,-0.6 A2.7,2.7 0 0 1 2.63,-0.6 Z" fill="#a42ae6" stroke="#a42ae6" stroke-width="0.8"/></g>
<g transform="translate(289.0,252.3)"><circle r="2.7" fill="#ffe0ff" stroke="#f038d8" stroke-width="0.8"/><path d="M-2.63,-0.6 A2.7,2.7 0 0 1 2.63,-0.6 Z" fill="#a42ae6" stroke="#a42ae6" stroke-width="0.8"/></g>
<g transform="translate(291.8,251.8)"><circle r="2.7" fill="#ffe0ff" stroke="#f038d8" stroke-width="0.8"/><path d="M-2.63,-0.6 A2.7,2.7 0 0 1 2.63,-0.6 Z" fill="#a42ae6" stroke="#a42ae6" stroke-width="0.8"/></g>
<g transform="translate(294.6,249.3)"><circle r="2.7" fill="#ffecff" stroke="#561088" stroke-width="0.6"/><path d="M-2.65,-0.5 A2.7,2.7 0 0 1 2.65,-0.5 Z" fill="#561088" stroke="#561088" stroke-width="0.6"/></g>
<g transform="translate(297.5,247.3)"><circle r="2.7" fill="#ffecff" stroke="#561088" stroke-width="0.6"/><path d="M-2.65,-0.5 A2.7,2.7 0 0 1 2.65,-0.5 Z" fill="#561088" stroke="#561088" stroke-width="0.6"/></g>
<g transform="translate(300.3,246.6)"><circle r="2.7" fill="#ffecff" stroke="#561088" stroke-width="0.6"/><path d="M-2.65,-0.5 A2.7,2.7 0 0 1 2.65,-0.5 Z" fill="#561088" stroke="#561088" stroke-width="0.6"/></g>
<g transform="translate(303.1,246.9)"><circle r="2.7" fill="#ffecff" stroke="#561088" stroke-width="0.6"/><path d="M-2.65,-0.5 A2.7,2.7 0 0 1 2.65,-0.5 Z" fill="#561088" stroke="#561088" stroke-width="0.6"/></g>
<g transform="translate(306.0,248.5)"><circle r="2.7" fill="#ffecff" stroke="#561088" stroke-width="0.6"/><path d="M-2.65,-0.5 A2.7,2.7 0 0 1 2.65,-0.5 Z" fill="#561088" stroke="#561088" stroke-width="0.6"/></g>
<g transform="translate(308.8,250.0)"><circle r="2.7" fill="#ffecff" stroke="#561088" stroke-width="0.6"/><path d="M-2.65,-0.5 A2.7,2.7 0 0 1 2.65,-0.5 Z" fill="#561088" stroke="#561088" stroke-width="0.6"/></g>
<g transform="translate(311.7,251.8)"><circle r="2.7" fill="#ffecff" stroke="#561088" stroke-width="0.6"/><path d="M-2.65,-0.5 A2.7,2.7 0 0 1 2.65,-0.5 Z" fill="#561088" stroke="#561088" stroke-width="0.6"/></g>
<g transform="translate(314.5,253.6)"><circle r="2.7" fill="#ffecff" stroke="#561088" stroke-width="0.6"/><path d="M-2.65,-0.5 A2.7,2.7 0 0 1 2.65,-0.5 Z" fill="#561088" stroke="#561088" stroke-width="0.6"/></g>
<g transform="translate(317.3,254.9)"><circle r="2.7" fill="#ffecff" stroke="#561088" stroke-width="0.6"/><path d="M-2.65,-0.5 A2.7,2.7 0 0 1 2.65,-0.5 Z" fill="#561088" stroke="#561088" stroke-width="0.6"/></g>
<g transform="translate(320.2,254.9)"><circle r="2.7" fill="#ffecff" stroke="#561088" stroke-width="0.6"/><path d="M-2.65,-0.5 A2.7,2.7 0 0 1 2.65,-0.5 Z" fill="#561088" stroke="#561088" stroke-width="0.6"/></g>
<g transform="translate(323.0,257.3)"><circle r="2.7" fill="#ffecff" stroke="#561088" stroke-width="0.6"/><path d="M-2.65,-0.5 A2.7,2.7 0 0 1 2.65,-0.5 Z" fill="#561088" stroke="#561088" stroke-width="0.6"/></g>
<g transform="translate(325.8,259.2)"><circle r="2.7" fill="#ffecff" stroke="#561088" stroke-width="0.6"/><path d="M-2.65,-0.5 A2.7,2.7 0 0 1 2.65,-0.5 Z" fill="#561088" stroke="#561088" stroke-width="0.6"/></g>
<g transform="translate(328.7,260.5)"><circle r="2.7" fill="#ffecff" stroke="#561088" stroke-width="0.6"/><path d="M-2.65,-0.5 A2.7,2.7 0 0 1 2.65,-0.5 Z" fill="#561088" stroke="#561088" stroke-width="0.6"/></g>
<g transform="translate(331.5,261.8)"><circle r="2.7" fill="#ffecff" stroke="#561088" stroke-width="0.6"/><path d="M-2.65,-0.5 A2.7,2.7 0 0 1 2.65,-0.5 Z" fill="#561088" stroke="#561088" stroke-width="0.6"/></g>
<g transform="translate(334.3,262.9)"><circle r="2.7" fill="#ffecff" stroke="#561088" stroke-width="0.6"/><path d="M-2.65,-0.5 A2.7,2.7 0 0 1 2.65,-0.5 Z" fill="#561088" stroke="#561088" stroke-width="0.6"/></g>
<g transform="translate(337.2,263.2)"><circle r="2.7" fill="#ffecff" stroke="#561088" stroke-width="0.6"/><path d="M-2.65,-0.5 A2.7,2.7 0 0 1 2.65,-0.5 Z" fill="#561088" stroke="#561088" stroke-width="0.6"/></g>
<g transform="translate(340.0,263.2)"><circle r="2.7" fill="#ffecff" stroke="#561088" stroke-width="0.6"/><path d="M-2.65,-0.5 A2.7,2.7 0 0 1 2.65,-0.5 Z" fill="#561088" stroke="#561088" stroke-width="0.6"/></g>
</svg>
</body></html>
